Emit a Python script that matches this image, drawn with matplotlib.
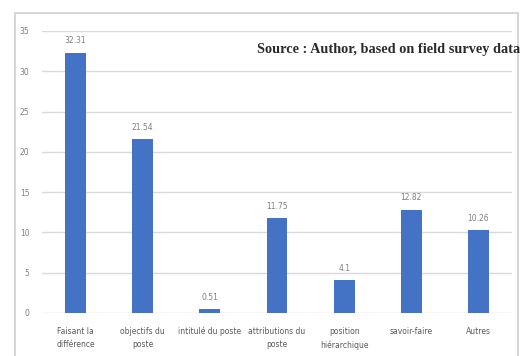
import matplotlib.pyplot as plt
from matplotlib.patches import Rectangle

categories = ["Faisant la\ndifférence", "objectifs du\nposte", "intitulé du poste",
              "attributions du\nposte", "position\nhiérarchique", "savoir-faire", "Autres"]
values = [32.31, 21.54, 0.51, 11.75, 4.1, 12.82, 10.26]
value_labels = ["32.31", "21.54", "0.51", "11.75", "4.1", "12.82", "10.26"]
yticks = [0, 5, 10, 15, 20, 25, 30, 35]

fig = plt.figure(figsize=(5.27, 3.56), dpi=100)
fig.patch.set_facecolor("white")

# outer chart frame
fig.patches.append(Rectangle((15 / 527, -0.01), 503 / 527, 1 - 13 / 356 + 0.01,
                             transform=fig.transFigure, fill=False,
                             edgecolor="#d0d0d0", linewidth=1.2))

ax = fig.add_axes([42 / 527, 1 - 313 / 356, 470 / 527, 282 / 356])
x = range(len(categories))
ax.bar(x, values, width=0.31, color="#4472c4", zorder=3)
for xi, v, lab in zip(x, values, value_labels):
    ax.text(xi, v + 0.9, lab, ha="center", va="bottom", fontsize=5.5, color="#7f7f7f")

ax.set_xlim(-0.5, len(categories) - 0.5)
ax.set_ylim(0, 35)
ax.set_yticks(yticks)
ax.set_xticks(list(x))
ax.set_xticklabels(categories, fontsize=5.5, color="#595959", linespacing=1.6)
ax.tick_params(axis="y", labelsize=5.5, labelcolor="#7f7f7f", length=0, pad=9)
ax.tick_params(axis="x", length=0, pad=10)
ax.grid(axis="y", color="#d9d9d9", linewidth=1, zorder=0)
for s in ax.spines.values():
    s.set_visible(False)

fig.text(520 / 527, 1 - 49 / 356, "Source : Author, based on field survey data",
         ha="right", va="center", fontsize=10.3, fontweight="bold",
         family="Liberation Serif", color="#2a2a2a")

fig.savefig("out.png", dpi=100)
